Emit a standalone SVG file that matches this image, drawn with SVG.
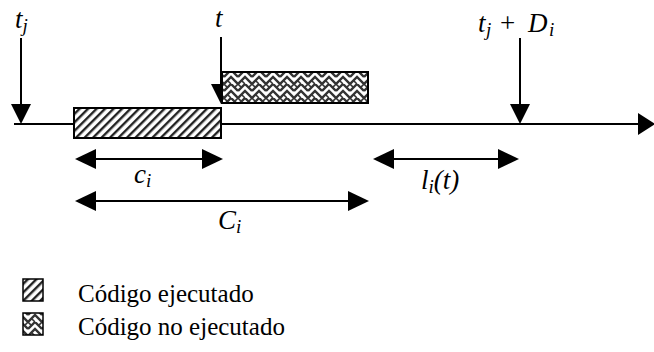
<svg xmlns="http://www.w3.org/2000/svg" width="654" height="352" viewBox="0 0 654 352">
<defs>
<pattern id="diag" width="6" height="6" patternUnits="userSpaceOnUse" patternTransform="rotate(45)">
<rect width="6" height="6" fill="#fff"/>
<rect x="0" y="0" width="2.4" height="6" fill="#222"/>
</pattern>
<pattern id="weave" width="14" height="14" patternUnits="userSpaceOnUse">
<rect width="14" height="14" fill="#fff"/>
<path d="M0 7 L7 0 L14 7 M0 14 L7 7 L14 14" stroke="#333" stroke-width="2.4" fill="none"/>
<path d="M3.5 10.5 L7 14 M10.5 3.5 L14 0 M0 0 L3.5 3.5" stroke="#333" stroke-width="1.6" fill="none"/>
</pattern>
</defs>
<g id="connectors">
<g stroke="#000" stroke-width="2" fill="none">
<line x1="14" y1="124" x2="640" y2="124"/>
<line x1="21" y1="38" x2="21" y2="106"/>
<line x1="221" y1="37" x2="221" y2="86"/>
<line x1="520" y1="38" x2="520" y2="106"/>
<line x1="90" y1="159" x2="208" y2="159"/>
<line x1="90" y1="201" x2="354" y2="201"/>
<line x1="388" y1="159" x2="504" y2="159"/>
</g>
<g fill="#000" stroke="none">
<polygon points="655,124 638,113 638,135"/>
<polygon points="21,124 11,104 31,104"/>
<polygon points="221,104 211,84 231,84"/>
<polygon points="520,124 510,104 530,104"/>
<polygon points="75,159 96,149 96,169"/>
<polygon points="223,159 202,149 202,169"/>
<polygon points="75,201 96,191 96,211"/>
<polygon points="369,201 348,191 348,211"/>
<polygon points="373,159 394,149 394,169"/>
<polygon points="519,159 498,149 498,169"/>
</g>
</g>
<g id="exec">
<rect x="74" y="108" width="147" height="30" fill="url(#diag)" stroke="#000" stroke-width="2"/>
</g>
<g id="noexec">
<rect x="222" y="72" width="146" height="31" fill="url(#weave)" stroke="#000" stroke-width="2"/>
</g>
<g id="lbl-tj"><text font-family="Liberation Serif" font-style="italic" font-size="27" fill="#000" x="15" y="28">t<tspan font-size="19" dy="4">j</tspan></text></g>
<g id="lbl-t"><text font-family="Liberation Serif" font-style="italic" font-size="27" fill="#000" x="215" y="27">t</text></g>
<g id="lbl-tjDi"><text font-family="Liberation Serif" font-style="italic" font-size="27" fill="#000" y="32"><tspan x="478">t</tspan><tspan font-size="19" x="486" dy="4">j</tspan><tspan x="500" dy="-4" font-style="normal">+</tspan><tspan x="528">D</tspan><tspan font-size="19" x="549" dy="4">i</tspan></text></g>
<g id="lbl-ci"><text font-family="Liberation Serif" font-style="italic" font-size="27" fill="#000" x="134" y="183">c<tspan font-size="19" dy="4">i</tspan></text></g>
<g id="lbl-Ci"><text font-family="Liberation Serif" font-style="italic" font-size="27" fill="#000" x="218" y="229">C<tspan font-size="19" dy="4">i</tspan></text></g>
<g id="lbl-li"><text font-family="Liberation Serif" font-style="italic" font-size="27" fill="#000" x="421" y="189">l<tspan font-size="19" dy="4">i</tspan><tspan dy="-4">(t)</tspan></text></g>
<g id="legend-exec">
<rect x="23" y="279" width="20" height="22" fill="url(#diag)" stroke="#000" stroke-width="1.5"/>
<text font-family="Liberation Serif" font-size="25" fill="#000" x="78" y="302">Código ejecutado</text>
</g>
<g id="legend-noexec">
<rect x="23" y="313" width="20" height="22" fill="url(#weave)" stroke="#000" stroke-width="1.5"/>
<text font-family="Liberation Serif" font-size="25" fill="#000" x="78" y="335">Código no ejecutado</text>
</g>
</svg>
